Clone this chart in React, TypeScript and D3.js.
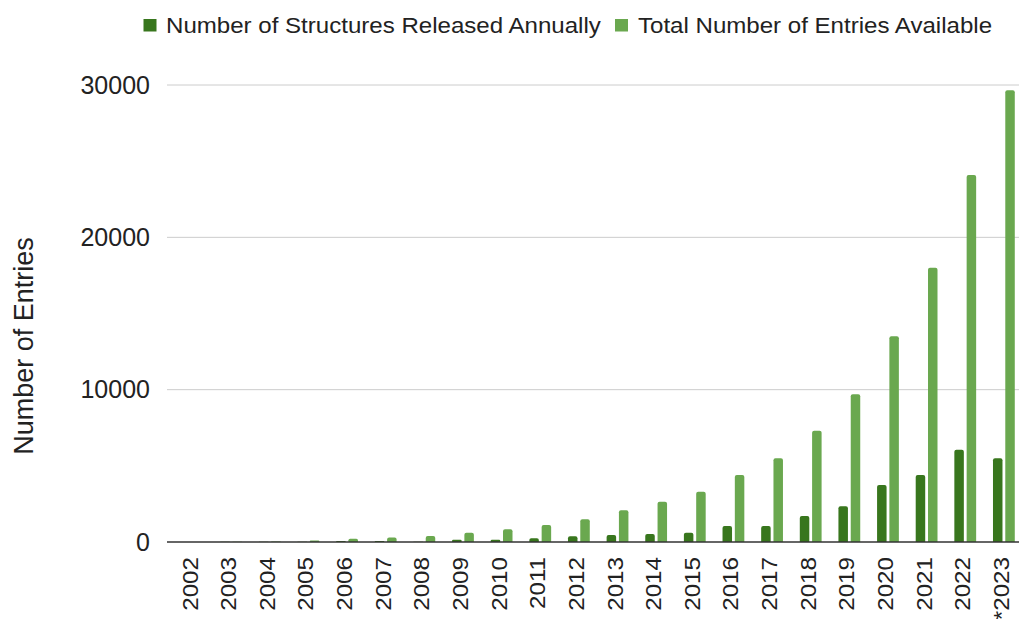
import React from "react";
import * as d3 from "d3";

const years = ["2002","2003","2004","2005","2006","2007","2008","2009","2010","2011","2012","2013","2014","2015","2016","2017","2018","2019","2020","2021","2022","*2023"];
const releasedAnnually = [0, 10, 15, 20, 60, 70, 20, 150, 150, 250, 370, 460, 530, 600, 1050, 1050, 1700, 2350, 3750, 4400, 6060, 5500];
const totalEntries = [0, 20, 30, 100, 220, 300, 390, 600, 830, 1120, 1490, 2080, 2650, 3300, 4400, 5500, 7300, 9700, 13500, 18000, 24100, 29650];
const yTicks = [0, 10000, 20000, 30000];
const seriesNames = ["Number of Structures Released Annually", "Total Number of Entries Available"];
const colors = ["#38761d", "#6aa84f"];

const W = 1019, H = 619;
const top = 85, bottom = 542;

export default function App() {
  const x = d3.scaleBand().domain(years).range([173.2, 1023.2]).paddingInner(0).paddingOuter(0);
  const y = d3.scaleLinear().domain([0, 30000]).range([bottom, top]);
  const barW = 9.5, gap = 2.8;
  const font = "'Liberation Sans', Arial, sans-serif";

  const barPath = (x0: number, v: number) => {
    const y0 = y(0), y1 = y(v);
    const h = y0 - y1;
    if (h <= 0) return "";
    const r = Math.min(2, h / 2, barW / 2);
    return `M${x0},${y0}V${y1 + r}Q${x0},${y1} ${x0 + r},${y1}H${x0 + barW - r}Q${x0 + barW},${y1} ${x0 + barW},${y1 + r}V${y0}Z`;
  };

  return (
    <svg width={W} height={H} style={{ position: "absolute", left: 0, top: 0, background: "#fff" }} fontFamily={font}>
      {yTicks.map((t) => (
        <g key={t}>
          {t !== 0 && <line x1={167} x2={1019} y1={y(t)} y2={y(t)} stroke="#cccccc" strokeWidth={1} />}
          <text x={150} y={y(t)} dy="0.35em" textAnchor="end" fontSize={25} fill="#222">{t}</text>
        </g>
      ))}
      <text transform={`translate(33,346) rotate(-90)`} textAnchor="middle" fontSize={27} fill="#222">Number of Entries</text>
      {years.map((yr, i) => {
        const c = (x(yr) as number) + x.bandwidth() / 2;
        return (
          <g key={yr}>
            <path d={barPath(c - gap / 2 - barW, releasedAnnually[i])} fill={colors[0]} />
            <path d={barPath(c + gap / 2, totalEntries[i])} fill={colors[1]} />
            <text transform={`translate(${c + 5},557) rotate(-90) scale(1.1,1)`} textAnchor="end" fontSize={22} fill="#222">{yr}</text>
          </g>
        );
      })}
      <line x1={167} x2={1019} y1={bottom} y2={bottom} stroke="#333" strokeWidth={1.3} />
      <g>
        <rect x={143.5} y={19} width={13} height={12.5} fill={colors[0]} />
        <text transform="translate(166,33.3) scale(1.095,1)" fontSize={22} fill="#222">{seriesNames[0]}</text>
        <rect x={615} y={19} width={13} height={12.5} fill={colors[1]} />
        <text transform="translate(638,33.3) scale(1.095,1)" fontSize={22} fill="#222">{seriesNames[1]}</text>
      </g>
    </svg>
  );
}
